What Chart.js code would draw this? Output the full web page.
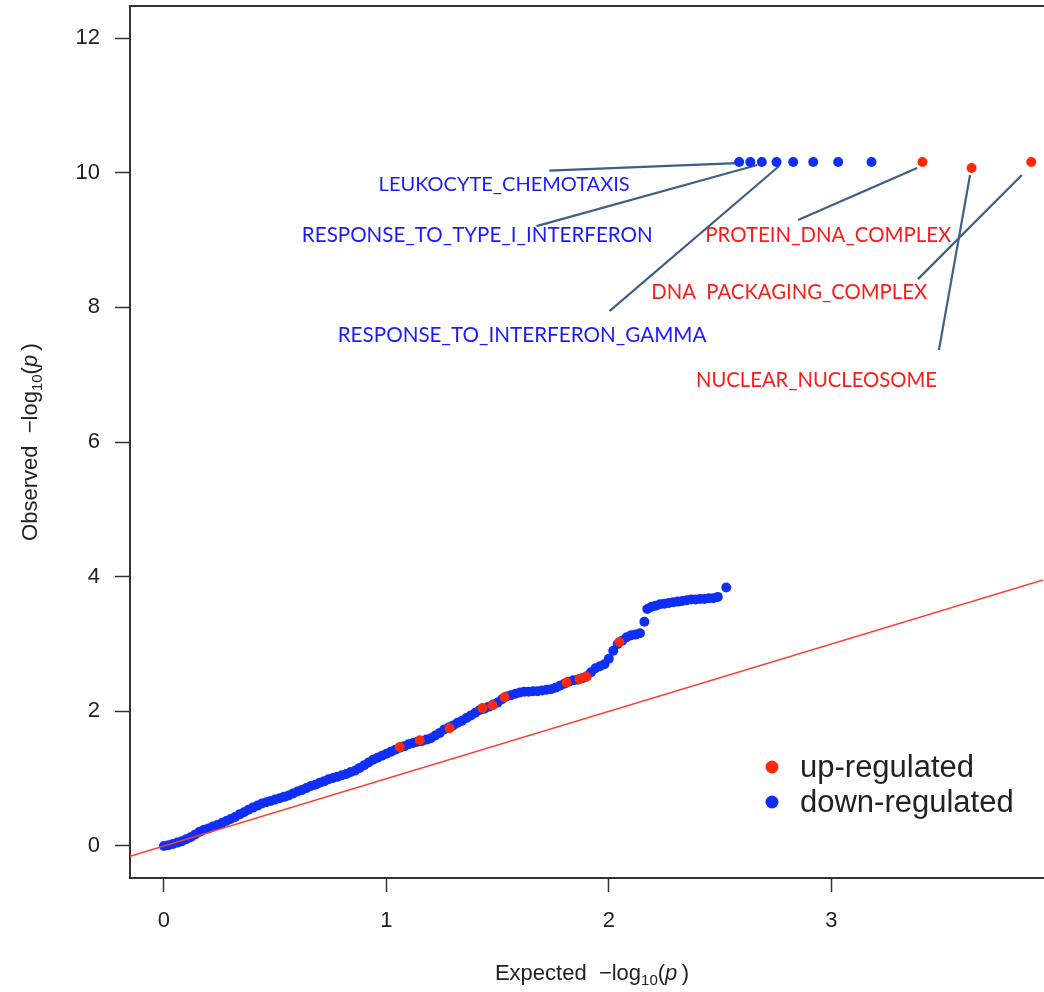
<!DOCTYPE html>
<html>
<head>
<meta charset="utf-8">
<script src="https://cdn.jsdelivr.net/npm/chart.js@4.4.1/dist/chart.umd.min.js"></script>
<style>
  html, body { margin: 0; padding: 0; background: #fff; overflow: hidden; }
</style>
</head>
<body>
<canvas id="qq" width="1048" height="992"></canvas>
<script>
// --- data ---
const xTicks = [0, 1, 2, 3];
const yTicks = [0, 2, 4, 6, 8, 10, 12];

// down-regulated gene sets, main QQ curve (expected, observed)
const downCurve = [
  [0.00,0.00],[0.02,0.01],[0.04,0.03],[0.06,0.05],[0.08,0.07],[0.10,0.10],[0.12,0.13],[0.14,0.17],
  [0.16,0.21],[0.18,0.24],[0.20,0.26],[0.22,0.29],[0.24,0.31],[0.26,0.34],[0.28,0.37],[0.30,0.40],
  [0.32,0.43],[0.34,0.47],[0.36,0.50],[0.38,0.54],[0.40,0.57],[0.42,0.60],[0.44,0.63],[0.46,0.65],
  [0.48,0.67],[0.50,0.69],[0.52,0.71],[0.54,0.73],[0.56,0.75],[0.58,0.78],[0.60,0.81],[0.62,0.83],
  [0.64,0.86],[0.66,0.89],[0.68,0.91],[0.70,0.94],[0.72,0.96],[0.74,0.99],[0.76,1.01],[0.78,1.03],
  [0.80,1.05],[0.82,1.07],[0.84,1.10],[0.86,1.12],[0.88,1.16],[0.90,1.20],[0.92,1.24],[0.94,1.28],
  [0.96,1.31],[0.98,1.34],[1.00,1.37],[1.02,1.40],[1.04,1.43],[1.06,1.46],[1.08,1.48],[1.10,1.51],
  [1.12,1.53],[1.14,1.55],[1.16,1.56],[1.18,1.58],[1.20,1.60],[1.22,1.64],[1.24,1.68],[1.26,1.73],
  [1.28,1.76],[1.30,1.79],[1.32,1.83],[1.34,1.86],[1.36,1.90],[1.38,1.94],[1.40,1.98],[1.42,2.02],
  [1.44,2.04],[1.46,2.07],[1.48,2.10],[1.50,2.13],[1.52,2.18],[1.54,2.22],[1.56,2.24],[1.58,2.26],
  [1.60,2.28],[1.62,2.29],[1.64,2.29],[1.66,2.30],[1.68,2.30],[1.70,2.31],[1.72,2.32],[1.74,2.33],
  [1.76,2.35],[1.78,2.38],[1.80,2.41],[1.82,2.44],[1.84,2.46],[1.86,2.47],[1.88,2.49],[1.90,2.52],
  [1.92,2.58],[1.94,2.64],[1.96,2.67],[1.98,2.70],[2.00,2.78],[2.02,2.90],[2.04,3.00],[2.06,3.05],
  [2.08,3.10],[2.10,3.13],[2.12,3.14],[2.14,3.16],[2.160,3.33],[2.173,3.52],[2.19,3.55],[2.21,3.57],
  [2.23,3.59],[2.25,3.60],[2.27,3.61],[2.29,3.62],[2.31,3.63],[2.33,3.64],[2.35,3.65],[2.37,3.66],
  [2.39,3.66],[2.41,3.67],[2.43,3.67],[2.45,3.68],[2.47,3.68],[2.49,3.70],[2.528,3.84]
];
// down-regulated top hits
const downTop = [
  [2.586,10.16],[2.636,10.16],[2.688,10.16],[2.754,10.16],[2.829,10.16],[2.919,10.16],[3.031,10.16],[3.181,10.16]
];
// up-regulated points visible on the curve
const upCurve = [
  [1.060,1.47],[1.150,1.57],[1.284,1.75],[1.432,2.05],[1.477,2.09],[1.531,2.21],
  [1.810,2.43],[1.868,2.48],[1.899,2.51],[2.048,3.03]
];
// up-regulated top hits
const upTop = [[3.41,10.16],[3.631,10.07],[3.899,10.16]];

// y = x reference line, across the x range
const refLine = [[-0.153,-0.153],[3.952,3.952]];

// labelled gene sets
const geneSets = [
  'LEUKOCYTE_CHEMOTAXIS',
  'RESPONSE_TO_TYPE_I_INTERFERON',
  'RESPONSE_TO_INTERFERON_GAMMA',
  'PROTEIN_DNA_COMPLEX',
  'DNA  PACKAGING_COMPLEX',
  'NUCLEAR_NUCLEOSOME'
];
const geneSetDir = ['down', 'down', 'down', 'up', 'up', 'up'];

// annotation geometry (data units): label left/baseline, leader line from/to
const labelAt = [[0.965,9.728],[0.620,8.977],[0.781,7.484],[2.434,8.970],[2.191,8.123],[2.392,6.816]];
const leaderFrom = [[1.733,10.033],[1.675,9.208],[2.003,7.945],[2.851,9.297],[3.390,8.420],[3.484,7.366]];
const leaderTo = [[2.577,10.144],[2.667,10.115],[2.766,10.100],[3.386,10.070],[3.857,9.966],[3.624,9.966]];
const labelWidth = [251, 351, 369, 246, 276, 241];

const COL = { up: '#ff2a0a', down: '#0f2ff7', upText: '#ff1a1a', downText: '#1a1aff', leader: '#3e5f86' };
const toPts = arr => arr.map(([x, y]) => ({ x, y }));

const leaderSets = leaderFrom.map((f, i) => ({
  label: 'leader' + i,
  data: toPts([f, leaderTo[i]]),
  showLine: true,
  borderColor: COL.leader,
  borderWidth: 2.2,
  pointRadius: 0,
  order: 3
}));

// --- plugin: frame top, annotations, legend, axis titles ---
const decor = {
  id: 'decor',
  afterDraw(chart) {
    const { ctx, chartArea: a, scales: { x, y } } = chart;
    ctx.save();

    // top frame line
    ctx.strokeStyle = '#333';
    ctx.lineWidth = 2;
    ctx.beginPath();
    ctx.moveTo(a.left - 1, a.top);
    ctx.lineTo(chart.width, a.top);
    ctx.stroke();

    // gene set labels
    ctx.textBaseline = 'alphabetic';
    ctx.textAlign = 'left';
    geneSets.forEach((t, i) => {
      ctx.font = '20px Lato';
      const s = 20 * labelWidth[i] / ctx.measureText(t).width;
      ctx.font = s.toFixed(2) + 'px Lato';
      ctx.fillStyle = geneSetDir[i] === 'up' ? COL.upText : COL.downText;
      ctx.fillText(t, x.getPixelForValue(labelAt[i][0]), y.getPixelForValue(labelAt[i][1]));
    });

    // legend
    const items = [chart.data.datasets[1], chart.data.datasets[2]];
    ctx.font = '31px "Liberation Sans", Arial, sans-serif';
    ctx.textBaseline = 'middle';
    items.forEach((ds, i) => {
      const ly = 767 + i * 35;
      ctx.fillStyle = ds.backgroundColor;
      ctx.beginPath();
      ctx.arc(772, ly, 6.5, 0, Math.PI * 2);
      ctx.fill();
      ctx.fillStyle = '#222';
      ctx.fillText(ds.label, 800, ly + 1);
    });

    // axis titles with subscript and italic p
    const parts = (word) => [
      { t: word + '  \u2212log', f: '22px "Liberation Sans"' },
      { t: '10', f: '15px "Liberation Sans"', dy: 5 },
      { t: '(', f: '22px "Liberation Sans"' },
      { t: 'p', f: 'italic 22px "Liberation Sans"' },
      { t: '\u2009)', f: '22px "Liberation Sans"' }
    ];
    const drawTitle = (ps, cx, cy) => {
      let w = 0;
      ps.forEach(p => { ctx.font = p.f; p.w = ctx.measureText(p.t).width; w += p.w; });
      let px = cx - w / 2;
      ctx.textBaseline = 'alphabetic';
      ctx.fillStyle = '#222';
      ps.forEach(p => { ctx.font = p.f; ctx.fillText(p.t, px, cy + (p.dy || 0)); px += p.w; });
    };
    drawTitle(parts('Expected'), 592, 980);
    ctx.save();
    ctx.translate(37, (a.top + a.bottom) / 2);
    ctx.rotate(-Math.PI / 2);
    drawTitle(parts('Observed'), 0, 0);
    ctx.restore();

    ctx.restore();
  }
};

const tickFont = { family: '"Liberation Sans", Arial, sans-serif', size: 22 };

new Chart(document.getElementById('qq'), {
  type: 'scatter',
  data: {
    datasets: [
      { label: 'ref', data: toPts(refLine), showLine: true, borderColor: '#ff3b30', borderWidth: 1.5, pointRadius: 0, order: 0 },
      { label: 'up-regulated', data: toPts(upCurve.concat(upTop)), backgroundColor: COL.up, borderWidth: 0, pointRadius: 5, order: 1 },
      { label: 'down-regulated', data: toPts(downCurve.concat(downTop)), backgroundColor: COL.down, borderWidth: 0, pointRadius: 5, order: 2 },
      ...leaderSets
    ]
  },
  options: {
    responsive: false,
    animation: false,
    devicePixelRatio: 1,
    layout: { padding: { top: 6, right: 0, left: 0, bottom: 0 } },
    plugins: { legend: { display: false }, tooltip: { enabled: false } },
    scales: {
      x: {
        type: 'linear',
        min: -0.1527,
        max: 3.952,
        afterBuildTicks: s => { s.ticks = xTicks.map(v => ({ value: v })); },
        afterFit: s => { s.height = 114; s.paddingLeft = 0; s.paddingRight = 0; },
        ticks: { font: tickFont, color: '#222', padding: 16 },
        grid: { drawOnChartArea: false, tickLength: 14, tickColor: '#333', tickWidth: 1.5 },
        border: { color: '#333', width: 2 }
      },
      y: {
        type: 'linear',
        min: -0.4755,
        max: 12.477,
        afterBuildTicks: s => { s.ticks = yTicks.map(v => ({ value: v })); },
        afterFit: s => { s.width = 130; s.paddingTop = 0; s.paddingBottom = 0; },
        ticks: { font: tickFont, color: '#222', padding: 15 },
        grid: { drawOnChartArea: false, tickLength: 15, tickColor: '#333', tickWidth: 1.5 },
        border: { color: '#333', width: 2 }
      }
    }
  },
  plugins: [decor]
});
</script>
</body>
</html>
